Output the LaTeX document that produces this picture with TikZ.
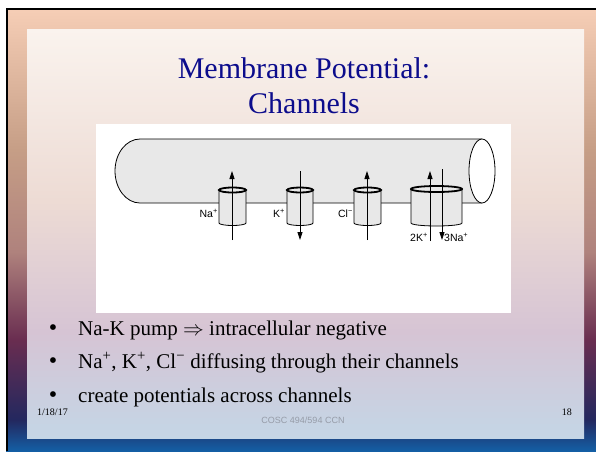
\documentclass[tikz,border=0pt]{standalone}
\usepackage{fontspec}
\setmainfont{Liberation Serif}
\setsansfont{Liberation Sans}
\usetikzlibrary{arrows.meta}

\definecolor{titleblue}{RGB}{12,12,140}
\definecolor{cellgray}{RGB}{232,232,232}
\definecolor{footgray}{RGB}{150,156,168}
\definecolor{framebot}{RGB}{20,95,165}
\definecolor{framenavy}{RGB}{35,40,95}
\definecolor{framewine}{RGB}{105,45,80}
\definecolor{framemauve}{RGB}{175,130,125}
\definecolor{framebrown}{RGB}{198,158,134}
\definecolor{frametop}{RGB}{246,206,182}
\definecolor{paneltop}{RGB}{250,243,238}
\definecolor{panelpeach}{RGB}{237,219,212}
\definecolor{panellilac}{RGB}{214,196,212}
\definecolor{panelbot}{RGB}{196,214,230}

\pgfdeclareverticalshading{slideframe}{100bp}{color(0bp)=(framebot); color(25bp)=(framebot);
  color(28.5bp)=(framenavy); color(37.5bp)=(framewine); color(47.5bp)=(framemauve);
  color(59bp)=(framebrown); color(75bp)=(frametop); color(100bp)=(frametop)}
\pgfdeclareverticalshading{slidepanel}{100bp}{color(0bp)=(panelbot); color(25bp)=(panelbot);
  color(38bp)=(panellilac); color(54bp)=(panelpeach); color(75bp)=(paneltop); color(100bp)=(paneltop)}

\begin{document}
\begin{tikzpicture}[x=1pt,y=-1pt,
  chan/.style={draw,fill=cellgray,line width=0.8pt},
  chantop/.style={draw,fill=cellgray,line width=1.8pt},
  flow/.style={line width=0.8pt,-{Triangle[length=8pt,width=5pt]}},
  ion/.style={font=\sffamily\fontsize{10.5}{12}\selectfont,inner sep=0pt},
  heading/.style={font=\fontsize{30}{35}\selectfont,text=titleblue,anchor=base,inner sep=0pt},
  item/.style={font=\fontsize{21}{25}\selectfont,anchor=base west,inner sep=0pt},
  dot/.style={font=\fontsize{24}{26}\selectfont,anchor=base,inner sep=0pt}]
\useasboundingbox (0,0) rectangle (596,451);
\fill[white] (0,0) rectangle (596,451);
% slide frame and panel
\shade[shading=slideframe] (6,8) rectangle (596,451);
\draw[line width=2pt] (7,451) -- (7,9) -- (596,9);
\shade[shading=slidepanel] (27,29) rectangle (584,438);

\node[heading] (title1) at (304,78) {Membrane Potential:};
\node[heading] (title2) at (304,113) {Channels};

% figure
\fill[white] (96,124) rectangle (511,313);
\draw[line width=0.8pt,fill=cellgray] (482,139) -- (140,139) arc[start angle=270,end angle=90,x radius=25,y radius=32] -- (482,203);
\draw[line width=0.8pt,fill=white] (482,171) ellipse[x radius=13,y radius=32];

\draw[chan] (219,190) -- (219,223) arc[start angle=180,end angle=0,x radius=13.5,y radius=2.5] -- (246,190);
\draw[chantop] (232.5,190) ellipse[x radius=13.5,y radius=2.5];
\draw[chan] (287,190) -- (287,223) arc[start angle=180,end angle=0,x radius=13,y radius=2.5] -- (313,190);
\draw[chantop] (300,190) ellipse[x radius=13,y radius=2.5];
\draw[chan] (354,190) -- (354,223) arc[start angle=180,end angle=0,x radius=13.5,y radius=2.5] -- (381,190);
\draw[chantop] (367.5,190) ellipse[x radius=13.5,y radius=2.5];
\draw[chan] (411,189) -- (411,223) arc[start angle=180,end angle=0,x radius=25.5,y radius=3] -- (462,189);
\draw[chantop] (436.5,189) ellipse[x radius=25.5,y radius=3];

\coordinate (nain) at (232,240); \coordinate (naout) at (232,171);
\coordinate (kout) at (300,171); \coordinate (kin) at (300,240);
\coordinate (clin) at (367,240); \coordinate (clout) at (367,171);
\coordinate (pkin) at (430,241); \coordinate (pkout) at (430,171);
\coordinate (pnaout) at (442,169); \coordinate (pnain) at (442,240);
\draw[flow] (nain) -- (naout);
\draw[flow] (kout) -- (kin);
\draw[flow] (clin) -- (clout);
\draw[flow] (pkin) -- (pkout);
\draw[flow] (pnaout) -- (pnain);

\node[ion,anchor=base east] (na) at (218,217) {Na\textsuperscript{+}};
\node[ion,anchor=base east] (k) at (285,217) {K\textsuperscript{+}};
\node[ion,anchor=base east] (cl) at (353,217) {Cl\textsuperscript{−}};
\node[ion,anchor=base west] (twok) at (410,241) {2K\textsuperscript{+}};
\node[ion,anchor=base west] (threena) at (444,241) {3Na\textsuperscript{+}};

% bullets
\node[dot] (b1) at (53,335) {\textbullet}; \node[item] (l1) at (78,335) {Na-K pump $\Rightarrow$ intracellular negative};
\node[dot] (b2) at (53,368) {\textbullet}; \node[item] (l2) at (78,368) {Na\textsuperscript{+}, K\textsuperscript{+}, Cl\textsuperscript{−} diffusing through their channels};
\node[dot] (b3) at (53,402) {\textbullet}; \node[item] (l3) at (78,402) {create potentials across channels};

% footer
\node[font=\fontsize{10}{12}\selectfont,anchor=base west,inner sep=0pt] (date) at (37,415) {1/18/17};
\node[font=\sffamily\fontsize{9}{11}\selectfont,text=footgray,anchor=base,inner sep=0pt] (course) at (303,423) {COSC 494/594 CCN};
\node[font=\fontsize{10}{12}\selectfont,anchor=base east,inner sep=0pt] (page) at (572,415) {18};
\end{tikzpicture}
\end{document}
